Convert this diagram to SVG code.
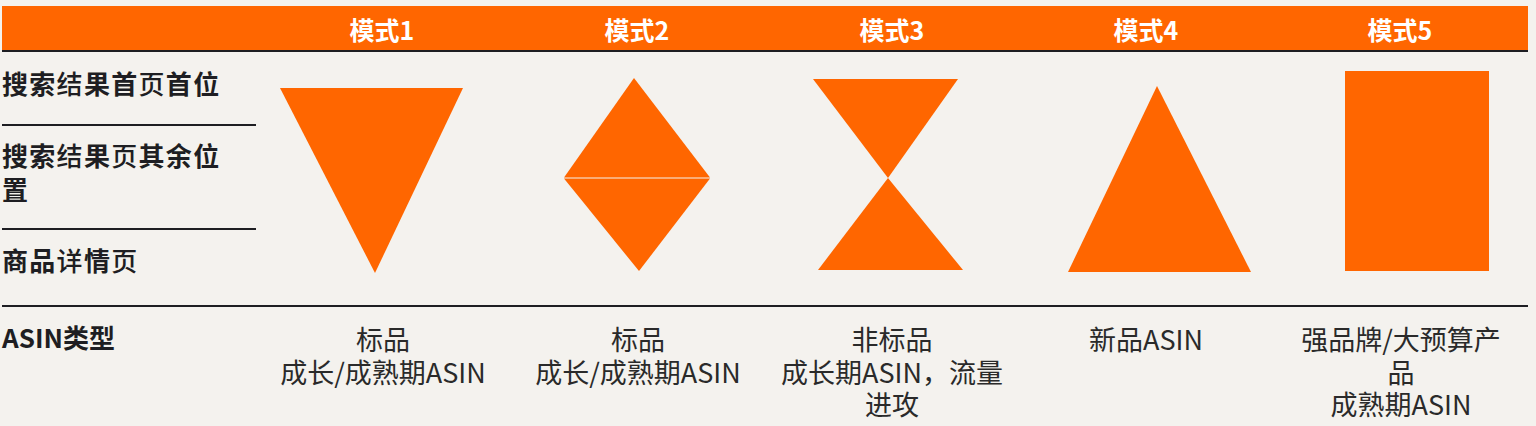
<svg xmlns="http://www.w3.org/2000/svg" width="1536" height="426" viewBox="0 0 1536 426">
<style>
.bg{fill:#F4F2EE}
.or{fill:#FF6600}
.rule{stroke:#1E1E22;stroke-width:2;fill:none}
.hd{font-family:"Noto Sans CJK SC","Noto Sans",sans-serif;font-size:25px;font-weight:700;fill:#FFFFFF;text-anchor:middle}
.lb{font-family:"Noto Sans CJK SC","Noto Sans",sans-serif;font-size:26px;font-weight:700;fill:#1E1E22;letter-spacing:1.3px}
.lt{font-weight:500}
.tx{font-family:"Noto Sans CJK SC","Noto Sans",sans-serif;font-size:27px;font-weight:400;fill:#2A2A2A;text-anchor:middle}
</style>
<rect class="bg" x="0" y="0" width="1536" height="426"/>
<g id="header">
<rect class="or" x="2" y="6" width="1526" height="45"/>
<line class="rule" x1="2" y1="51" x2="1528" y2="51"/>
</g>
<g id="rows">
<text class="lb" x="2" y="94">搜索<tspan class="lt">结</tspan>果首<tspan class="lt">页</tspan>首位</text>
<line class="rule" x1="2" y1="125" x2="256" y2="125"/>
<text class="lb" x="2" y="166">搜索<tspan class="lt">结</tspan>果<tspan class="lt">页</tspan>其余位</text>
<text class="lb" x="2" y="200">置</text>
<line class="rule" x1="2" y1="229" x2="256" y2="229"/>
<text class="lb" x="2" y="271">商品<tspan class="lt">详</tspan>情<tspan class="lt">页</tspan></text>
<line class="rule" x1="2" y1="306" x2="1528" y2="306"/>
<text class="lb" x="2" y="348" style="letter-spacing:0">ASIN类型</text>
</g>
<g id="mode1">
<text class="hd" x="382" y="40">模式1</text>
<polygon class="or" points="280,88 463,88 375,273"/>
<text class="tx" x="383" y="350">标品</text>
<text class="tx" x="383" y="383">成长/成熟期ASIN</text>
</g>
<g id="mode2">
<text class="hd" x="637" y="40">模式2</text>
<polygon class="or" points="634,78 564,177.6 710,177.6"/>
<polygon class="or" points="564,178.6 710,178.6 639,271"/>
<text class="tx" x="638" y="350">标品</text>
<text class="tx" x="638" y="383">成长/成熟期ASIN</text>
</g>
<g id="mode3">
<text class="hd" x="892" y="40">模式3</text>
<polygon class="or" points="813,79 958,79 888,178"/>
<polygon class="or" points="888,178 818,270 963,270"/>
<text class="tx" x="892" y="350">非标品</text>
<text class="tx" x="892" y="383">成长期ASIN，流量</text>
<text class="tx" x="892" y="415">进攻</text>
</g>
<g id="mode4">
<text class="hd" x="1146" y="40">模式4</text>
<polygon class="or" points="1157,86 1068,272 1251,272"/>
<text class="tx" x="1146" y="350">新品ASIN</text>
</g>
<g id="mode5">
<text class="hd" x="1400" y="40">模式5</text>
<rect class="or" x="1345" y="71" width="144" height="200"/>
<text class="tx" x="1401" y="350">强品牌/大预算产</text>
<text class="tx" x="1401" y="383">品</text>
<text class="tx" x="1401" y="415">成熟期ASIN</text>
</g>
<g id="connectors"/>
</svg>
